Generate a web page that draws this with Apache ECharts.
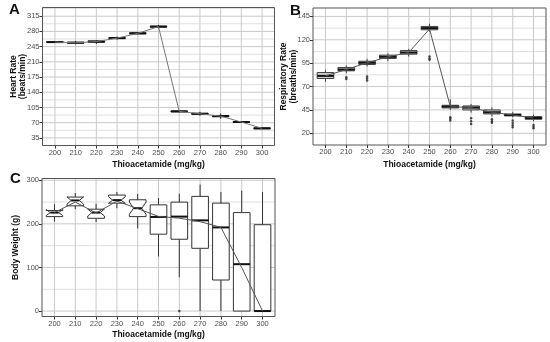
<!DOCTYPE html>
<html><head><meta charset="utf-8">
<script src="https://cdn.jsdelivr.net/npm/echarts@6/dist/echarts.min.js"></script>
<style>html,body{margin:0;padding:0;background:#fff}#c{width:550px;height:342px}</style>
</head><body><div id="c"></div>
<script>
// ---------- data ----------
const doses = [200,210,220,230,240,250,260,270,280,290,300];

// Panel A: Heart rate (beats/min)
const hrLow  = [253.5,250,251,261,273.5,287,94,86,79,70,55.5];
const hrQ1   = [254.5,253,255,263.5,274.5,290,95,89.5,84,70.5,56];
const hrMed  = [255.4,254,256.5,264.5,275.5,291,96,90.5,85,71.5,57];
const hrQ3   = [256.5,255,258,265.5,276.8,292,97,91.5,86.5,72.5,58];
const hrHigh = [257.5,258,259,268,277.5,295,98,95,91,73,58.5];
const hrLine = [255.4,254,256.5,264.5,275.5,291,96,90.5,85,71.5,57];
const hrTicks = [35,70,105,140,175,210,245,280,315];
const hrMinor = [17.5,52.5,87.5,122.5,157.5,192.5,227.5,262.5,297.5,332.5];

// Panel B: Respiratory rate (breaths/min)
const rrLow  = [75,84.3,91.4,97.1,102.1,128.6,45,42.1,37.9,37.1,32.9];
const rrQ1   = [78.6,86.8,93.6,100,104.6,130.7,47.1,45,40.7,38.6,35];
const rrMed  = [81.4,88.2,95.4,101.8,106.4,132.5,48.6,47.5,42.5,39.6,36.4];
const rrQ3   = [85,90.4,97.1,103.6,108.6,134.3,50,49.3,45,40.7,37.9];
const rrHigh = [88,92.5,99.6,105.7,110.4,137.1,56.4,51.4,47.9,42.9,40];
const rrLine = [81.4,88.2,95.4,101.8,106.4,131.5,48.6,47.5,42.5,39.6,36.4];
const rrOutX = [210,210,220,220,220,250,250,250,260,260,260,270,270,270,280,280,280,290,290,290,290,300,300,300];
const rrOutY = [80,78,80.7,78.5,76.4,102.1,100,98.6,37.1,35.5,33.6,36,33,30,35,33,31.4,33.6,31,28.5,26.4,29,27,25.4];
const rrTicks = [20,45,70,95,120,145];
const rrMinor = [32.5,57.5,82.5,107.5,132.5];

// Panel C: Body weight (g)
const bwLow  = [205,233.6,204.2,235.9,189.5,125.3,77.3,0,0,0,0];
const bwQ1   = [216.6,241.3,212.7,247.5,216.6,176.3,164.7,143.9,71.2,0,0];
const bwMed  = [225.8,253.7,225.8,254.4,235.9,215.8,216.6,208,191.8,107.5,0];
const bwQ3   = [230.5,261.4,233.6,266,255.2,243.6,249.8,263,247.5,225.8,198];
const bwHigh = [245,270.7,246,273,268.4,259,269.1,290,273,276,273];
const bwNotchLo = [219,245,218,247,222,null,null,null,null,null,null];
const bwNotchHi = [233,262,234,262,250,null,null,null,null,null,null];
const bwLine = [226,250,225,252,235,217,213,205,192,100,0];
const bwOutX = [260];
const bwOutY = [0];
const bwTicks = [0,100,200,300];
const bwMinor = [50,150,250];

// ---------- helpers ----------
const FONT = 'Liberation Sans';
const MAJ = '#c9c9c9', MIN = '#dfdfdf';

function rows(lo,q1,md,q3,hi){ return doses.map((d,i)=>[d,lo[i],q1[i],md[i],q3[i],hi[i]]); }

function boxRender(fill, stroke, nlo, nhi){
  return function(params, api){
    const i = params.dataIndex;
    const x = api.value(0), lo = api.value(1), q1 = api.value(2), md = api.value(3), q3 = api.value(4), hi = api.value(5);
    const hw = 4;
    const c = (xx,yy)=>api.coord([xx,yy]);
    const ch = [];
    const seg = (p,q,w,col)=>({type:'line',shape:{x1:p[0],y1:p[1],x2:q[0],y2:q[1]},style:{stroke:col||stroke,lineWidth:w||1}});
    if (hi > q3) ch.push(seg(c(x,q3),c(x,hi)));
    if (lo < q1) ch.push(seg(c(x,lo),c(x,q1)));
    const L = x-hw, R = x+hw;
    let pts, mL, mR;
    if (nlo && nlo[i] != null){
      const li = x-hw/2, ri = x+hw/2;
      pts = [c(L,q3),c(L,nhi[i]),c(li,md),c(L,nlo[i]),c(L,q1),c(R,q1),c(R,nlo[i]),c(ri,md),c(R,nhi[i]),c(R,q3)];
      mL = c(li,md); mR = c(ri,md);
    } else {
      pts = [c(L,q3),c(L,q1),c(R,q1),c(R,q3)];
      mL = c(L,md); mR = c(R,md);
    }
    ch.push({type:'polygon',shape:{points:pts},style:{fill:fill,stroke:stroke,lineWidth:1}});
    ch.push(seg(mL,mR,2,'#111'));
    return {type:'group',children:ch};
  };
}

// grid lines drawn through the axes' own scales (custom series)
function gridSeries(k, yMajor, yMinor){
  const data = [];
  yMinor.forEach(v=>data.push([0,v,0]));
  yMajor.forEach(v=>data.push([0,v,1]));
  doses.forEach(d=>data.push([1,d,1]));
  return {type:'custom',xAxisIndex:k,yAxisIndex:k,z:1,silent:true,clip:true,
    dimensions:['dir','v','major'],encode:{},data:data,
    renderItem:function(params, api){
      const cs = params.coordSys;
      const dir = api.value(0), v = api.value(1), major = api.value(2);
      const col = major ? MAJ : MIN;
      if (dir === 0){
        const y = api.coord([200, v])[1];
        return {type:'line',shape:{x1:cs.x,y1:y,x2:cs.x+cs.width,y2:y},style:{stroke:col,lineWidth:1}};
      } else {
        const xx = api.coord([v, 0])[0];
        return {type:'line',shape:{x1:xx,y1:cs.y,x2:xx,y2:cs.y+cs.height},style:{stroke:col,lineWidth:1}};
      }
    }};
}

function xAx(gi, gap){
  return {
    type:'value', gridIndex:gi, min:194, max:306,
    name:'Thioacetamide (mg/kg)', nameLocation:'middle', nameGap:gap, nameMoveOverlap:false,
    nameTextStyle:{fontFamily:FONT,fontWeight:'bold',fontSize:8.5,color:'#111'},
    axisLine:{show:false,onZero:false},
    axisTick:{show:true,customValues:doses,length:3,lineStyle:{color:'#333',width:1}},
    axisLabel:{customValues:doses,fontFamily:FONT,fontSize:7.5,color:'#4d4d4d',margin:3,
      formatter:v=>(v%10===0&&v>=200&&v<=300)?String(v):''},
    splitLine:{show:false}
  };
}
function yAx(gi, min, max, ticks, name, gap){
  return {
    type:'value', gridIndex:gi, min:min, max:max,
    name:name, nameLocation:'middle', nameGap:gap, nameRotate:90, nameMoveOverlap:false,
    nameTextStyle:{fontFamily:FONT,fontWeight:'bold',fontSize:8.5,color:'#111',lineHeight:9.5},
    axisLine:{show:false,onZero:false},
    axisTick:{show:true,customValues:ticks,length:3,lineStyle:{color:'#333',width:1}},
    axisLabel:{customValues:ticks,fontFamily:FONT,fontSize:7.5,color:'#4d4d4d',margin:3,
      formatter:v=>ticks.indexOf(v)>=0?String(v):''},
    splitLine:{show:false}
  };
}
const gridStyle = {show:true,z:10,backgroundColor:'rgba(0,0,0,0)',borderColor:'#555',borderWidth:1,containLabel:false,outerBoundsMode:'none'};

const option = {
  animation:false,
  backgroundColor:'#fff',
  title:[
    {text:'A',left:9,top:2,padding:0,textStyle:{fontFamily:FONT,fontSize:15,fontWeight:'bold',color:'#111'}},
    {text:'B',left:290,top:3,padding:0,textStyle:{fontFamily:FONT,fontSize:15,fontWeight:'bold',color:'#111'}},
    {text:'C',left:10,top:171,padding:0,textStyle:{fontFamily:FONT,fontSize:15,fontWeight:'bold',color:'#111'}}
  ],
  grid:[
    Object.assign({left:42.5,top:7.5,width:232,height:138},gridStyle),
    Object.assign({left:313,top:8,width:233,height:137},gridStyle),
    Object.assign({left:42,top:178.5,width:233,height:138},gridStyle)
  ],
  xAxis:[xAx(0,15),xAx(1,15),xAx(2,14)],
  yAxis:[
    yAx(0,17.5,335,hrTicks,'Heart Rate\n(beats/min)',15),
    yAx(1,7.5,154,rrTicks,'Respiratory Rate\n(breaths/min)',15),
    yAx(2,-12.5,304,bwTicks,'Body Weight (g)',22)
  ],
  series:[
    gridSeries(0,hrTicks,hrMinor),
    gridSeries(1,rrTicks,rrMinor),
    gridSeries(2,bwTicks,bwMinor),

    {type:'custom',xAxisIndex:0,yAxisIndex:0,z:5,renderItem:boxRender('#fff','#222'),
      dimensions:['x','lo','q1','md','q3','hi'],encode:{x:0,y:[1,2,3,4,5]},data:rows(hrLow,hrQ1,hrMed,hrQ3,hrHigh)},
    {type:'line',xAxisIndex:0,yAxisIndex:0,z:6,showSymbol:false,symbol:'none',lineStyle:{color:'#777',width:1},
      data:doses.map((d,i)=>[d,hrLine[i]])},

    {type:'custom',xAxisIndex:1,yAxisIndex:1,z:5,renderItem:boxRender('#cdcdcd','#444'),
      dimensions:['x','lo','q1','md','q3','hi'],encode:{x:0,y:[1,2,3,4,5]},data:rows(rrLow,rrQ1,rrMed,rrQ3,rrHigh)},
    {type:'line',xAxisIndex:1,yAxisIndex:1,z:6,showSymbol:false,symbol:'none',lineStyle:{color:'#555',width:1},
      data:doses.map((d,i)=>[d,rrLine[i]])},
    {type:'scatter',xAxisIndex:1,yAxisIndex:1,z:7,symbolSize:2.5,itemStyle:{color:'#222'},
      data:rrOutX.map((d,i)=>[d,rrOutY[i]])},

    {type:'custom',xAxisIndex:2,yAxisIndex:2,z:5,renderItem:boxRender('#fff','#333',bwNotchLo,bwNotchHi),
      dimensions:['x','lo','q1','md','q3','hi'],encode:{x:0,y:[1,2,3,4,5]},data:rows(bwLow,bwQ1,bwMed,bwQ3,bwHigh)},
    {type:'line',xAxisIndex:2,yAxisIndex:2,z:6,showSymbol:false,symbol:'none',lineStyle:{color:'#555',width:1},
      data:doses.map((d,i)=>[d,bwLine[i]])},
    {type:'scatter',xAxisIndex:2,yAxisIndex:2,z:7,symbolSize:2.5,itemStyle:{color:'#222'},
      data:bwOutX.map((d,i)=>[d,bwOutY[i]])}
  ]
};
const chart = echarts.init(document.getElementById('c'),null,{renderer:'canvas'});
chart.setOption(option);
</script></body></html>
